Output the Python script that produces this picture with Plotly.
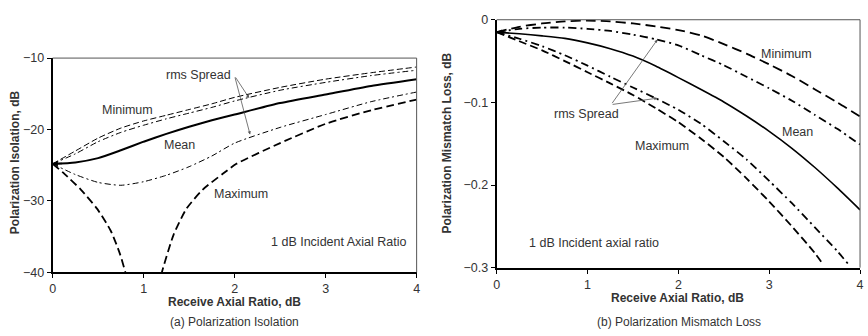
import plotly.graph_objects as go

# ---------------- (a) Polarization Isolation ----------------
xa = [0, 0.25, 0.5, 0.75, 1.0, 1.25, 1.5, 1.75, 2.0, 2.5, 3.0, 3.5, 4.0]
a_minimum = [-24.8, -23.0, -21.2, -19.8, -18.8, -18.0, -17.2, -16.4, -15.5, -14.1, -12.95, -12.05, -11.25]
a_rms_up = [-24.8, -23.4, -21.7, -20.4, -19.4, -18.5, -17.7, -16.9, -16.0, -14.5, -13.4, -12.45, -11.7]
a_mean = [-24.8, -24.6, -24.0, -22.9, -21.7, -20.6, -19.6, -18.7, -17.9, -16.3, -15.1, -13.9, -12.95]
a_rms_lo = [-24.8, -26.3, -27.4, -27.8, -27.3, -26.4, -25.2, -23.7, -21.9, -19.7, -17.9, -16.1, -14.75]
xa_max = [0, 0.13, 0.31, 0.49, 0.64, 0.74, 0.80, 0.84, None, 1.16, 1.2, 1.33, 1.47, 1.65, 1.87, 2.02, 2.5, 3.0, 3.5, 4.0]
a_maximum = [-24.8, -26.2, -28.4, -31.1, -34.2, -37.4, -40.0, -42.0, None, -42.0, -40.0, -34.7, -31.1, -28.4, -26.2, -24.8, -21.9, -19.2, -17.3, -15.8]

# ---------------- (b) Polarization Mismatch Loss ----------------
xb = [0, 0.25, 0.5, 0.75, 1.0, 1.25, 1.5, 1.75, 2.0, 2.25, 2.5, 2.75, 3.0, 3.25, 3.5, 3.75, 4.0]
b_minimum = [-0.015, -0.0085, -0.0045, -0.002, -0.001, -0.002, -0.0045, -0.008, -0.0125, -0.019, -0.0295, -0.041, -0.054, -0.068, -0.084, -0.100, -0.117]
b_rms_up = [-0.015, -0.011, -0.0095, -0.0095, -0.011, -0.0135, -0.018, -0.0235, -0.031, -0.043, -0.055, -0.069, -0.083, -0.098, -0.115, -0.132, -0.151]
b_mean = [-0.015, -0.017, -0.0195, -0.0225, -0.028, -0.035, -0.044, -0.056, -0.070, -0.0845, -0.0995, -0.1165, -0.135, -0.1555, -0.1785, -0.2035, -0.230]
xb_rms_lo = [0, 0.25, 0.5, 0.75, 1.0, 1.25, 1.5, 1.75, 2.0, 2.25, 2.5, 2.75, 3.0, 3.25, 3.5, 3.75, 3.88]
b_rms_lo = [-0.015, -0.023, -0.032, -0.043, -0.0555, -0.069, -0.082, -0.095, -0.109, -0.126, -0.147, -0.169, -0.195, -0.222, -0.251, -0.280, -0.297]
xb_max = [0, 0.25, 0.5, 0.75, 1.0, 1.25, 1.5, 1.75, 2.0, 2.25, 2.5, 2.75, 3.0, 3.25, 3.5, 3.6]
b_maximum = [-0.015, -0.026, -0.037, -0.050, -0.0635, -0.077, -0.091, -0.107, -0.124, -0.144, -0.166, -0.192, -0.220, -0.250, -0.282, -0.297]

x_ticks = [0, 1, 2, 3, 4]
a_yticks = [-40, -30, -20, -10]
b_yticks = [-0.3, -0.2, -0.1, 0]

FONT = "Liberation Sans, Arial, Helvetica, sans-serif"
TXT = "#333333"
W, H = 868, 336

fig = go.Figure()

def add(x, y, dash, width, xa_="x", ya_="y"):
    fig.add_trace(go.Scatter(x=x, y=y, mode="lines", xaxis=xa_, yaxis=ya_,
                             line=dict(color="black", width=width, dash=dash, shape="spline", smoothing=0.6),
                             connectgaps=False, showlegend=False, hoverinfo="skip"))

add(xa, a_minimum, "6px,3px", 1)
add(xa, a_rms_up, "6px,3px,2px,3px", 1)
add(xa, a_mean, "solid", 2)
add(xa, a_rms_lo, "6px,3px,2px,3px", 1)
add(xa_max, a_maximum, "8px,4px", 1.8)

add(xb, b_minimum, "10px,5px", 1.8, "x2", "y2")
add(xb, b_rms_up, "8px,4px,2px,4px", 1.8, "x2", "y2")
add(xb, b_mean, "solid", 1.6, "x2", "y2")
add(xb_rms_lo, b_rms_lo, "8px,4px,2px,4px", 1.8, "x2", "y2")
add(xb_max, b_maximum, "8px,4px", 1.8, "x2", "y2")

axis_common = dict(showline=True, linewidth=2, linecolor="black", ticks="outside", ticklen=4,
                   tickwidth=1, tickcolor="black", showgrid=False, zeroline=False,
                   ticklabeloverflow="allow",
                   tickfont=dict(family=FONT, size=12.5, color=TXT))

fig.update_layout(
    width=W, height=H, margin=dict(l=0, r=0, t=0, b=0),
    paper_bgcolor="white", plot_bgcolor="white", showlegend=False,
    xaxis=dict(domain=[50 / W, 417 / W], range=[0, 4], tickvals=x_ticks, anchor="y", **axis_common),
    yaxis=dict(domain=[1 - 277 / H, 1 - 53.3 / H], range=[-40, -10], tickvals=a_yticks, anchor="x", **axis_common),
    xaxis2=dict(domain=[497.7 / W, 864 / W], range=[0, 4], tickvals=x_ticks, anchor="y2", **axis_common),
    yaxis2=dict(domain=[1 - 272 / H, 1 - 13.3 / H], range=[-0.3, 0], tickvals=b_yticks, anchor="x2", **axis_common),
)

# thin top / right frame lines
for xr, yr in (("x domain", "y domain"), ("x2 domain", "y2 domain")):
    fig.add_shape(type="line", xref=xr, yref=yr, x0=0, x1=1, y0=1, y1=1, line=dict(color="#555555", width=1))
    fig.add_shape(type="line", xref=xr, yref=yr, x0=1, x1=1, y0=0, y1=1, line=dict(color="#555555", width=1))

def ptxt(text, px, py, size=12, bold=False, angle=0):
    fig.add_annotation(x=px / W, y=1 - py / H, xref="paper", yref="paper", text=f"<b>{text}</b>" if bold else text,
                       showarrow=False, textangle=angle, xanchor="center", yanchor="middle",
                       font=dict(family=FONT, size=size, color=TXT))

# axis titles and captions
ptxt("Polarization Isolation, dB", 12, 162, 12, True, -90)
ptxt("Receive Axial Ratio, dB", 233, 308, 12, True)
ptxt("(a) Polarization Isolation", 233, 329, 12)
ptxt("Polarization Mismatch Loss, dB", 448, 142, 12, True, -90)
ptxt("Receive Axial Ratio, dB", 680, 304, 12, True)
ptxt("(b) Polarization Mismatch Loss", 681, 329, 12)

def dtxt(text, x, y, xr="x", yr="y", anchor="center"):
    fig.add_annotation(x=x, y=y, xref=xr, yref=yr, text=text, showarrow=False, xanchor=anchor,
                       yanchor="middle", font=dict(family=FONT, size=12.5, color=TXT))

dtxt("Minimum", 0.82, -17.3)
dtxt("Mean", 1.39, -22.2)
dtxt("Maximum", 2.07, -29.0)
dtxt("rms Spread", 1.6, -12.4)
dtxt("1 dB Incident Axial Ratio", 3.92, -35.7, anchor="right")

dtxt("Minimum", 3.19, -0.0415, "x2", "y2")
dtxt("Mean", 3.31, -0.136, "x2", "y2")
dtxt("Maximum", 1.82, -0.153, "x2", "y2")
dtxt("rms Spread", 0.99, -0.114, "x2", "y2")
dtxt("1 dB Incident axial ratio", 1.07, -0.27, "x2", "y2")

def arrow(x, y, ax, ay, xr="x", yr="y", width=0.8, color="#555555", head=2, size=0.8):
    fig.add_annotation(x=x, y=y, ax=ax, ay=ay, xref=xr, yref=yr, axref=xr, ayref=yr, text="",
                       showarrow=True, arrowhead=head, arrowsize=size, arrowwidth=width, arrowcolor=color,
                       standoff=0, startstandoff=0)

# rms spread pointers
arrow(2.16, -15.6, 2.0, -12.5)
arrow(2.17, -20.7, 2.0, -12.5)
arrow(1.77, -0.024, 1.26, -0.1027, "x2", "y2")
arrow(1.77, -0.0949, 1.26, -0.1027, "x2", "y2")

# start arrows
arrow(0.0, -24.8, 0.12, -24.75, width=1.5, color="black", size=0.7)
arrow(0.0, -0.015, 0.12, -0.0152, "x2", "y2", width=1.5, color="black", size=0.7)

fig.write_html("out.html", config={"displayModeBar": False},
               post_script="document.body.style.margin='0px';document.body.style.overflow='hidden';")
